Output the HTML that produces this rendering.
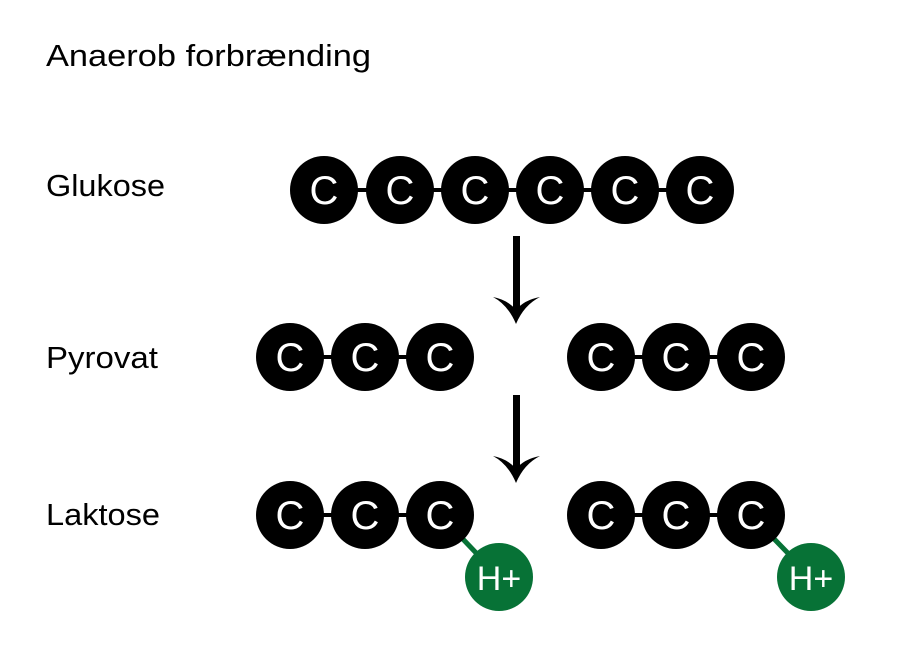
<!DOCTYPE html>
<html><head><meta charset="utf-8"><style>
body{margin:0;background:#fff}
</style></head><body>
<svg width="902" height="658" viewBox="0 0 902 658" xmlns="http://www.w3.org/2000/svg" font-family="Liberation Sans, sans-serif">
<rect width="902" height="658" fill="#fff"/>
<g font-size="31" fill="#000">
<text x="46" y="66" textLength="325" lengthAdjust="spacingAndGlyphs">Anaerob forbrænding</text>
<text x="46" y="196" textLength="119" lengthAdjust="spacingAndGlyphs">Glukose</text>
<text x="46" y="368" textLength="112" lengthAdjust="spacingAndGlyphs">Pyrovat</text>
<text x="46" y="525" textLength="114" lengthAdjust="spacingAndGlyphs">Laktose</text>
</g>
<g stroke="#000" stroke-width="4">
<line x1="324" y1="190" x2="700" y2="190"/>
<line x1="290" y1="357" x2="440" y2="357"/>
<line x1="601" y1="357" x2="751" y2="357"/>
<line x1="290" y1="515" x2="440" y2="515"/>
<line x1="601" y1="515" x2="751" y2="515"/>
</g>
<g stroke="#077236" stroke-width="5">
<line x1="440" y1="515" x2="499" y2="577"/>
<line x1="751" y1="515" x2="811" y2="577"/>
</g>
<g fill="#000">
<circle cx="324" cy="190" r="34"/><circle cx="400" cy="190" r="34"/><circle cx="475" cy="190" r="34"/><circle cx="550" cy="190" r="34"/><circle cx="625" cy="190" r="34"/><circle cx="700" cy="190" r="34"/>
<circle cx="290" cy="357" r="34"/><circle cx="365" cy="357" r="34"/><circle cx="440" cy="357" r="34"/>
<circle cx="601" cy="357" r="34"/><circle cx="676" cy="357" r="34"/><circle cx="751" cy="357" r="34"/>
<circle cx="290" cy="515" r="34"/><circle cx="365" cy="515" r="34"/><circle cx="440" cy="515" r="34"/>
<circle cx="601" cy="515" r="34"/><circle cx="676" cy="515" r="34"/><circle cx="751" cy="515" r="34"/>
</g>
<g fill="#077236"><circle cx="499" cy="577" r="34"/><circle cx="811" cy="577" r="34"/></g>
<g fill="#fff" font-size="40" text-anchor="middle">
<text x="324" y="204">C</text><text x="400" y="204">C</text><text x="475" y="204">C</text><text x="550" y="204">C</text><text x="625" y="204">C</text><text x="700" y="204">C</text>
<text x="290" y="371">C</text><text x="365" y="371">C</text><text x="440" y="371">C</text>
<text x="601" y="371">C</text><text x="676" y="371">C</text><text x="751" y="371">C</text>
<text x="290" y="529">C</text><text x="365" y="529">C</text><text x="440" y="529">C</text>
<text x="601" y="529">C</text><text x="676" y="529">C</text><text x="751" y="529">C</text>
<text x="499" y="590" font-size="34">H+</text><text x="811" y="590" font-size="34">H+</text>
</g>
<g fill="#000">
<rect x="513" y="236" width="7" height="76"/>
<path d="M516,324 Q508,305 493,297 Q508,300 516,310 Q524,300 540,297 Q524,305 516,324Z"/>
<rect x="513" y="395" width="7" height="76"/>
<path d="M516,483 Q508,464 493,456 Q508,459 516,469 Q524,459 540,456 Q524,464 516,483Z"/>
</g>
</svg>
</body></html>
